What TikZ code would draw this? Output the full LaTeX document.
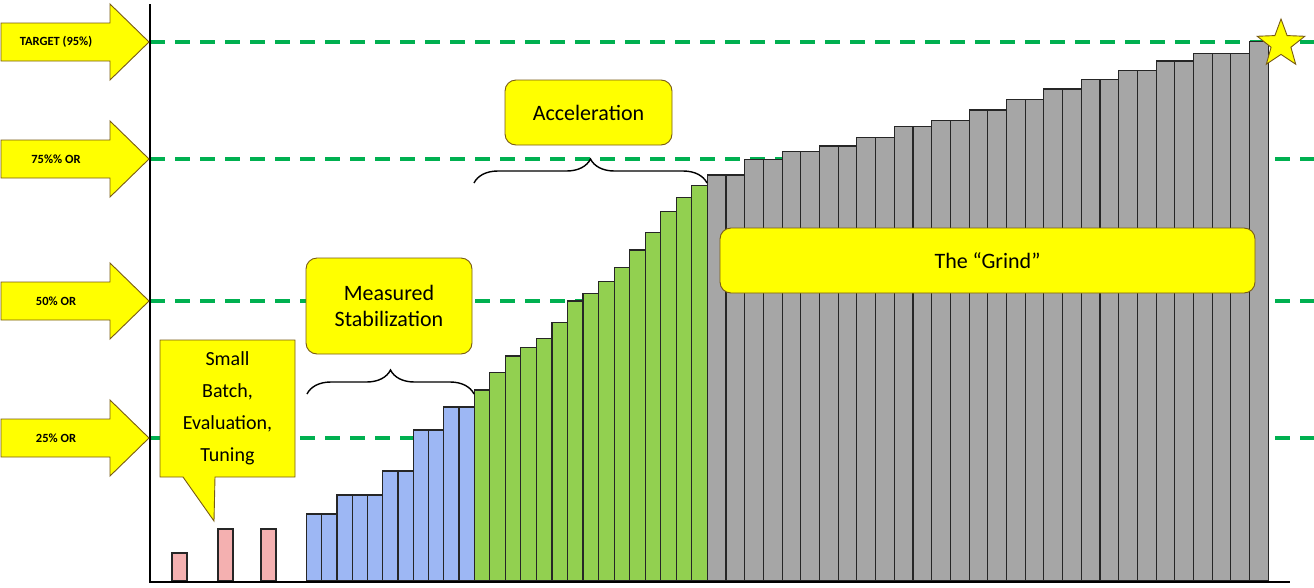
\documentclass[tikz,border=0pt]{standalone}
\usepackage{fontspec}
\setmainfont{Carlito}
\usetikzlibrary{shapes.geometric,shapes.arrows,decorations.pathreplacing}
\definecolor{gl}{RGB}{0,176,80}
\definecolor{pk}{RGB}{244,176,176}
\definecolor{bl}{RGB}{157,183,244}
\definecolor{gr}{RGB}{146,208,80}
\definecolor{gy}{RGB}{166,166,166}
\definecolor{yl}{RGB}{255,255,0}
\definecolor{ybd}{RGB}{120,90,20}
\tikzset{
  bar/.style={draw=black!85,line width=1.1pt},
  level/.style={gl,line width=3.2pt,dash pattern=on 15pt off 10pt},
  callout/.style={fill=yl,draw=ybd,line width=0.9pt,rounded corners=11pt},
  lbl/.style={font=\fontsize{22}{26}\selectfont,align=center},
  brc/.style={draw=black,line width=1.4pt,decorate,decoration={brace,amplitude=24pt}},
}
\begin{document}
\begin{tikzpicture}[x=1pt,y=-1pt]
\useasboundingbox (0,0) rectangle (1314,587);
% dashed levels
\foreach \yy in {42,159,301,438} \draw[level] (150,\yy) -- (1314,\yy);
% pink bars
\foreach \xa/\t in {172/553,218/529,261/529} \draw[bar,fill=pk] (\xa,581) rectangle (\xa+15,\t);
% blue bars
\foreach \t [count=\i from 0] in {514,514,495,495,495,471,471,430,430,407,407}
  \draw[bar,fill=bl] (306.5+\i*15.25,581) rectangle (306.5+\i*15.25+15.25,\t);
% green bars
\foreach \t [count=\i from 0] in {390,372.7,356,347.7,338.3,322.7,301,293.3,281.7,267.3,250,232.7,211.7,197.3,185.7}
  \draw[bar,fill=gr] (474.3+\i*15.53,581) rectangle (474.3+\i*15.53+15.53,\t);
% gray bars
\foreach \t [count=\i from 0] in {175,175,159.3,159.3,151.7,151.7,146,146,137.7,137.7,126.7,126.7,120.7,120.7,110,110,99.3,99.3,89,89,79.3,79.3,70.7,70.7,61,61,53.3,53.3,53.3,41.7}
  \draw[bar,fill=gy] (707.3+\i*18.7,581) rectangle (707.3+\i*18.7+18.7,\t);
% axes
\draw[line width=2.6pt] (150,4) -- (150,582) -- (1290,582);
% left arrows
\foreach \yy/\txt/\n in {42/TARGET (95\%)/a1,159/75\%\% OR/a2,301/50\% OR/a3,438/25\% OR/a4}{
  \draw[fill=yl,draw=ybd,line width=0.9pt] (1,\yy-19) -- (110,\yy-19) -- (110,\yy-38) -- (149,\yy) -- (110,\yy+38) -- (110,\yy+19) -- (1,\yy+19) -- cycle;
  \node[font=\bfseries\fontsize{12.5}{14}\selectfont,anchor=center] (\n) at (56,\yy) {\txt};
}
% Small batch callout
\draw[fill=yl,draw=ybd,line width=0.9pt] (160,340) -- (295,340) -- (295,477) -- (215,477) -- (214,521) -- (183,477) -- (160,477) -- cycle;
\node[lbl,font=\fontsize{20}{32}\selectfont] (sb) at (227.5,408) {Small\\Batch,\\Evaluation,\\Tuning};
% measured stabilization
\node[callout,lbl,minimum width=166pt,minimum height=96pt,inner sep=2pt] (ms) at (389,306) {Measured\\Stabilization};
\coordinate (b1l) at (307,394); \coordinate (b1r) at (474,394);
\draw[brc] (b1l) -- (b1r);
% acceleration
\node[callout,lbl,minimum width=167pt,minimum height=65pt] (ac) at (588.5,112.5) {Acceleration};
\coordinate (b2l) at (474,183); \coordinate (b2r) at (707,183);
\draw[brc] (b2l) -- (b2r);
% grind
\node[callout,lbl,minimum width=535pt,minimum height=65pt] (gd) at (987.5,260.5) {The “Grind”};
% star
\node[star,star points=5,star point ratio=2.4,fill=yl,draw=ybd,line width=0.9pt,minimum size=50pt,inner sep=0pt] (st) at (1281,44) {};
\end{tikzpicture}
\end{document}
